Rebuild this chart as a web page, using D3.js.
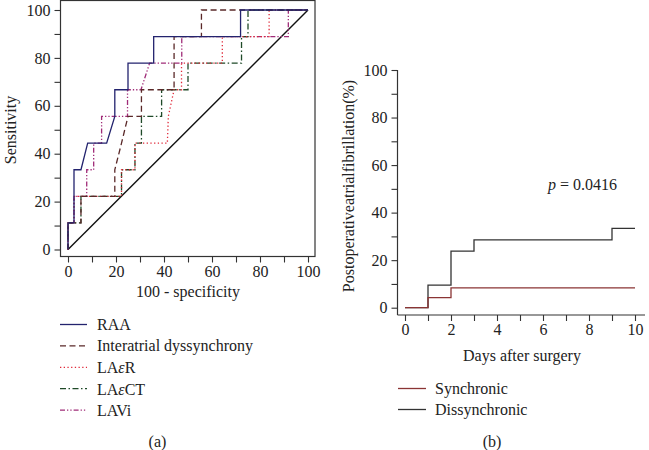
<!DOCTYPE html>
<html>
<head>
<meta charset="utf-8">
<script src="https://cdn.jsdelivr.net/npm/d3@7"></script>
<style>
  html, body { margin: 0; padding: 0; background: #fff; }
  svg { display: block; }
  text { font-family: "Liberation Serif", "Times New Roman", serif; fill: #222; }
</style>
</head>
<body>
<svg id="chart" width="649" height="450"></svg>
<script>
// ---------- Data: panel (a) ROC curves [100 - specificity, sensitivity] ----------
const rocNames = ["RAA", "Interatrial dyssynchrony", "LAεR", "LAεCT", "LAVi"];
const rocRAA = [[0,0],[0,11.1],[2.5,11.1],[2.5,33.3],[5.4,33.3],[8.2,44.4],[16.1,44.4],[19.5,55.6],[19.5,66.7],[25,66.7],[25,77.8],[35.7,77.8],[35.7,88.9],[71.9,88.9],[71.9,100],[100,100]];
const rocInteratrial = [[0,0],[0,11.1],[5.4,11.1],[5.4,22.2],[19.5,22.2],[19.5,33.3],[22.3,44.4],[25,55.6],[30.6,55.6],[30.6,66.7],[44.2,66.7],[44.2,88.9],[55.6,88.9],[55.6,100],[100,100]];
const rocLAeR = [[0,0],[0,11.1],[2.5,11.1],[2.5,22.2],[22.3,22.2],[22.3,33.3],[27.9,33.3],[27.9,44.4],[41.4,44.4],[41.8,55.6],[44.2,66.7],[47.3,66.7],[47.3,77.8],[64.3,77.8],[64.3,88.9],[83.8,88.9],[83.8,100],[100,100]];
const rocLAeCT = [[0,0],[0,11.1],[5.4,11.1],[5.4,22.2],[22.3,22.2],[22.3,33.3],[27.9,33.3],[27.9,44.4],[30.6,44.4],[30.6,55.6],[39,55.6],[39,66.7],[50,66.7],[50,77.8],[72.3,77.8],[72.3,88.9],[75,88.9],[75,100],[100,100]];
const rocLAVi = [[0,0],[0,11.1],[2.5,11.1],[2.5,22.2],[7.8,22.2],[7.8,33.3],[10.7,33.3],[10.7,44.4],[14,44.4],[14,55.6],[24.8,55.6],[24.8,66.7],[30.4,66.7],[34,77.8],[47.4,77.8],[47.4,88.9],[91.8,88.9],[91.8,100],[100,100]];
const rocReference = [[0,0],[100,100]];
const rocTicks = [0,10,20,30,40,50,60,70,80,90,100];

// ---------- Data: panel (b) cumulative incidence (value holds from each day on) ----------
const afNames = ["Synchronic", "Dissynchronic"];
const afDays = [0,1,2,3,9,10];
const afSynchronic = [0,4.2,8.3,8.3,8.3,8.3];
const afDissynchronic = [0,9.5,23.8,28.5,33.4,33.4];
const afYTicks = [0,10,20,30,40,50,60,70,80,90,100];
const afXTicks = [0,1,2,3,4,5,6,7,8,9,10];
const pLabel = "0.0416";

const svg = d3.select("#chart");
const FS = 16;

// ================= Panel (a) =================
const ax = d3.scaleLinear().domain([0,100]).range([68, 308]);
const ay = d3.scaleLinear().domain([0,100]).range([249.5, 10]);
const gA = svg.append("g");

gA.append("rect").attr("x", 60.5).attr("y", 0.5).attr("width", 254.5).attr("height", 256)
  .attr("fill", "none").attr("stroke", "#333").attr("stroke-width", 1.2);

const yAxisA = d3.axisLeft(ay).tickValues(rocTicks).tickSize(6).tickSizeOuter(0)
  .tickFormat(d => d % 20 === 0 ? d : "");
const gyA = gA.append("g").attr("transform", "translate(60.5,0)").call(yAxisA);
gyA.select(".domain").remove();
gyA.selectAll("line").attr("stroke", "#333").attr("stroke-width", 1.1);
gyA.selectAll("text").attr("font-size", FS).attr("font-family", "Liberation Serif").attr("fill", "#222").attr("x", -10);

const xAxisA = d3.axisBottom(ax).tickValues(rocTicks).tickSize(6).tickSizeOuter(0)
  .tickFormat(d => d % 20 === 0 ? d : "");
const gxA = gA.append("g").attr("transform", "translate(0,256.5)").call(xAxisA);
gxA.select(".domain").remove();
gxA.selectAll("line").attr("stroke", "#333").attr("stroke-width", 1.1);
gxA.selectAll("text").attr("font-size", FS).attr("font-family", "Liberation Serif").attr("fill", "#222").attr("y", 9);

const lineA = d3.line().x(d => ax(d[0])).y(d => ay(d[1]));
gA.append("path").datum(rocReference).attr("d", lineA)
  .attr("fill", "none").attr("stroke", "#111").attr("stroke-width", 1.4);

const rocStyles = [
  { data: rocRAA, color: "#23236e", dash: null },
  { data: rocInteratrial, color: "#5a2828", dash: "6,3.5" },
  { data: rocLAeR, color: "#e02a3a", dash: "1.3,2.4" },
  { data: rocLAeCT, color: "#1f4a28", dash: "6,2.5,1.5,2.5" },
  { data: rocLAVi, color: "#a02c78", dash: "5,2,1.3,2,1.3,2" }
];
[4,3,2,1,0].forEach(i => {
  const s = rocStyles[i];
  gA.append("path").datum(s.data).attr("d", lineA)
    .attr("fill", "none").attr("stroke", s.color).attr("stroke-width", 1.3)
    .attr("stroke-dasharray", s.dash);
});

gA.append("text").attr("transform", "translate(12,130) rotate(-90)")
  .attr("text-anchor", "middle").attr("dominant-baseline", "middle")
  .attr("font-size", FS).text("Sensitivity");
gA.append("text").attr("x", 188).attr("y", 297).attr("text-anchor", "middle")
  .attr("font-size", FS).text("100 - specificity");

rocNames.forEach((name, i) => {
  const y = 324.5 + i * 21.4;
  const s = rocStyles[i];
  gA.append("line").attr("x1", 60).attr("x2", 87).attr("y1", y).attr("y2", y)
    .attr("stroke", s.color).attr("stroke-width", 1.3).attr("stroke-dasharray", s.dash);
  const t = gA.append("text").attr("x", 97).attr("y", y).attr("dominant-baseline", "central")
    .attr("font-size", FS);
  if (name.includes("ε")) {
    const parts = name.split("ε");
    t.append("tspan").text(parts[0]);
    t.append("tspan").attr("font-style", "italic").text("ε");
    t.append("tspan").text(parts[1]);
  } else {
    t.text(name);
  }
});
gA.append("text").attr("x", 157.5).attr("y", 447).attr("text-anchor", "middle")
  .attr("font-size", FS).text("(a)");

// ================= Panel (b) =================
const bx = d3.scaleLinear().domain([0,10]).range([405, 635]);
const by = d3.scaleLinear().domain([0,100]).range([307.7, 70]);
const gB = svg.append("g");

gB.append("line").attr("x1", 397.5).attr("x2", 397.5).attr("y1", 70).attr("y2", 315)
  .attr("stroke", "#333").attr("stroke-width", 1.2);
gB.append("line").attr("x1", 397.5).attr("x2", 645).attr("y1", 315).attr("y2", 315)
  .attr("stroke", "#333").attr("stroke-width", 1.2);

const yAxisB = d3.axisLeft(by).tickValues(afYTicks).tickSize(6).tickSizeOuter(0)
  .tickFormat(d => d % 20 === 0 ? d : "");
const gyB = gB.append("g").attr("transform", "translate(397.5,0)").call(yAxisB);
gyB.select(".domain").remove();
gyB.selectAll("line").attr("stroke", "#333").attr("stroke-width", 1.1);
gyB.selectAll("text").attr("font-size", FS).attr("font-family", "Liberation Serif").attr("fill", "#222").attr("x", -10);

const xAxisB = d3.axisBottom(bx).tickValues(afXTicks).tickSize(6).tickSizeOuter(0)
  .tickFormat(d => d % 2 === 0 ? d : "");
const gxB = gB.append("g").attr("transform", "translate(0,315)").call(xAxisB);
gxB.select(".domain").remove();
gxB.selectAll("line").attr("stroke", "#333").attr("stroke-width", 1.1);
gxB.selectAll("text").attr("font-size", FS).attr("font-family", "Liberation Serif").attr("fill", "#222").attr("y", 9);

const lineB = d3.line().curve(d3.curveStepAfter).x(d => bx(d[0])).y(d => by(d[1]));
const afColors = ["#8a3434", "#333333"];
const afSeries = [afSynchronic, afDissynchronic];
[1,0].forEach(i => {
  gB.append("path").datum(afDays.map((d, j) => [d, afSeries[i][j]])).attr("d", lineB)
    .attr("fill", "none").attr("stroke", afColors[i]).attr("stroke-width", 1.3);
});

const pt = gB.append("text").attr("x", 548).attr("y", 184).attr("dominant-baseline", "central")
  .attr("font-size", FS);
pt.append("tspan").attr("font-style", "italic").text("p");
pt.append("tspan").text(" = " + pLabel);

gB.append("text").attr("transform", "translate(350,186) rotate(-90)")
  .attr("text-anchor", "middle").attr("dominant-baseline", "middle")
  .attr("font-size", FS).text("Postoperativeatrialfibrillation(%)");
gB.append("text").attr("x", 522).attr("y", 361).attr("text-anchor", "middle")
  .attr("font-size", FS).text("Days after surgery");

afNames.forEach((name, i) => {
  const y = 388.5 + i * 21;
  gB.append("line").attr("x1", 398).attr("x2", 426).attr("y1", y).attr("y2", y)
    .attr("stroke", afColors[i]).attr("stroke-width", 1.3);
  gB.append("text").attr("x", 435).attr("y", y).attr("dominant-baseline", "central")
    .attr("font-size", FS).text(name);
});
gB.append("text").attr("x", 492).attr("y", 447).attr("text-anchor", "middle")
  .attr("font-size", FS).text("(b)");
</script>
</body>
</html>
